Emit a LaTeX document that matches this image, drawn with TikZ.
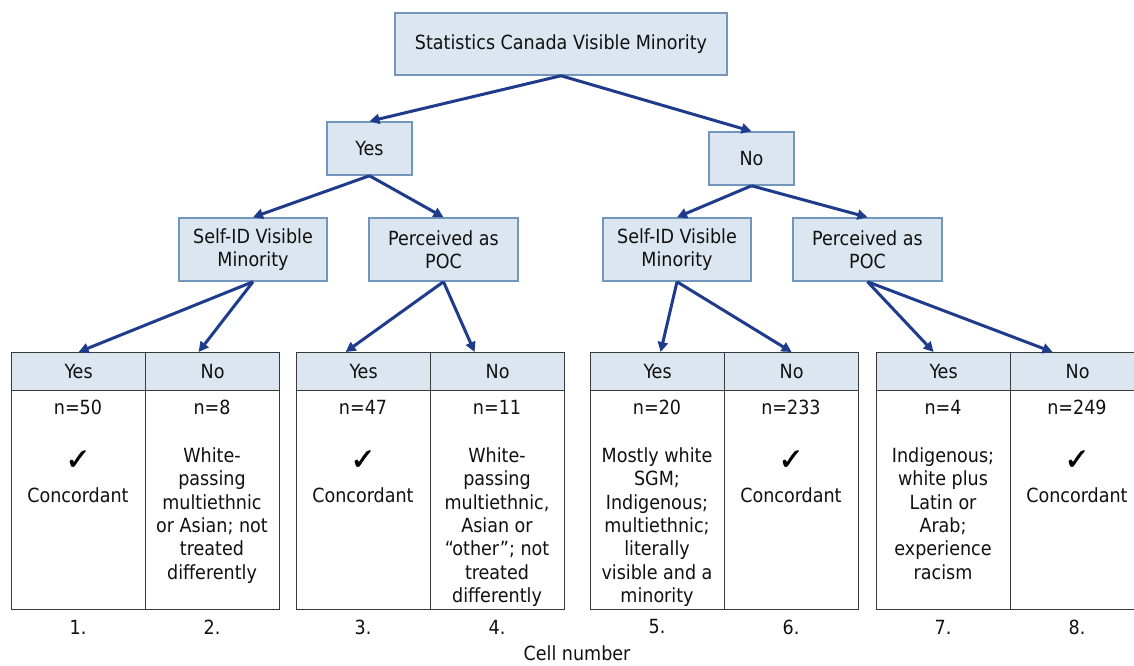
\documentclass[tikz,border=0pt]{standalone}
\usepackage{fontspec}
\setmainfont{DejaVu Sans Condensed}
\newfontfamily\symfont{DejaVu Sans}[FakeBold=1.6]
\usetikzlibrary{arrows.meta,calc}
\definecolor{boxfill}{HTML}{DCE6F0}
\definecolor{boxline}{HTML}{7397BC}
\definecolor{arrowc}{HTML}{1F3C8C}
\definecolor{tabline}{HTML}{3A3A3A}
\definecolor{txt}{HTML}{111111}
\newcommand{\mainsize}{\fontsize{19.5}{23.3}\selectfont}
\tikzset{
  treebox/.style={draw=boxline, fill=boxfill, line width=1.5pt, align=center,
    inner sep=0pt, font=\mainsize, text=txt},
  hdr/.style={draw=tabline, fill=boxfill, line width=1.2pt, minimum width=134pt,
    minimum height=38pt, inner sep=0pt, anchor=north west, font=\mainsize, text=txt},
  cellbody/.style={draw=tabline, line width=1.2pt, minimum width=134pt,
    minimum height=219pt, inner sep=0pt, anchor=north west},
  celltxt/.style={align=center, inner sep=0pt, font=\mainsize, text=txt, anchor=north},
  checktxt/.style={inner sep=0pt, font=\symfont\fontsize{30}{30}\selectfont, text=black},
  numtxt/.style={inner sep=0pt, font=\mainsize, text=txt},
  arr/.style={draw=arrowc, line width=3pt, -{Triangle[length=10pt,width=10pt]}}
}
\begin{document}
\begin{tikzpicture}[x=1pt,y=-1pt]
\useasboundingbox (0,0) rectangle (1134,665);
\fill[white] (0,0) rectangle (1134,665);
% tree boxes
\node[treebox, minimum width=332pt, minimum height=62pt] (top) at (561,44) {Statistics Canada Visible Minority};
\node[treebox, minimum width=85pt, minimum height=53pt] (yes) at (369.5,148.5) {Yes};
\node[treebox, minimum width=85pt, minimum height=53pt] (no) at (751.5,158.5) {No};
\node[treebox, minimum width=148pt, minimum height=63pt] (sidL) at (253,249.5) {Self-ID Visible\\Minority};
\node[treebox, minimum width=149pt, minimum height=63pt] (pocL) at (443.5,249.5) {Perceived as\\POC};
\node[treebox, minimum width=148pt, minimum height=63pt] (sidR) at (677,249.5) {Self-ID Visible\\Minority};
\node[treebox, minimum width=149pt, minimum height=63pt] (pocR) at (867.5,249.5) {Perceived as\\POC};
% tables: headers
\node[hdr] (h1) at (11,352) {Yes};
\node[hdr] (h2) at (145,352) {No};
\node[hdr] (h3) at (296,352) {Yes};
\node[hdr] (h4) at (430,352) {No};
\node[hdr] (h5) at (590,352) {Yes};
\node[hdr] (h6) at (724,352) {No};
\node[hdr] (h7) at (876,352) {Yes};
\node[hdr] (h8) at (1010,352) {No};
% bodies
\node[cellbody] (b1) at (11,390) {};
\node[cellbody] (b2) at (145,390) {};
\node[cellbody] (b3) at (296,390) {};
\node[cellbody] (b4) at (430,390) {};
\node[cellbody] (b5) at (590,390) {};
\node[cellbody] (b6) at (724,390) {};
\node[cellbody] (b7) at (876,390) {};
\node[cellbody] (b8) at (1010,390) {};
% counts
\node[celltxt] (n1) at (78,400) {n=50};
\node[celltxt] (n2) at (212,400) {n=8};
\node[celltxt] (n3) at (363,400) {n=47};
\node[celltxt] (n4) at (497,400) {n=11};
\node[celltxt] (n5) at (657,400) {n=20};
\node[celltxt] (n6) at (791,400) {n=233};
\node[celltxt] (n7) at (943,400) {n=4};
\node[celltxt] (n8) at (1077,400) {n=249};
% concordant cells
\node[checktxt] (c1) at (78,460) {✓};
\node[celltxt] (k1) at (78,487.5) {Concordant};
\node[checktxt] (c3) at (363,460) {✓};
\node[celltxt] (k3) at (363,487.5) {Concordant};
\node[checktxt] (c6) at (791,460) {✓};
\node[celltxt] (k6) at (791,487.5) {Concordant};
\node[checktxt] (c8) at (1077,460) {✓};
\node[celltxt] (k8) at (1077,487.5) {Concordant};
% descriptive cells
\node[celltxt] (d2) at (212,447.5) {White-\\passing\\multiethnic\\or Asian; not\\treated\\differently};
\node[celltxt] (d4) at (497,447.5) {White-\\passing\\multiethnic,\\Asian or\\“other”; not\\treated\\differently};
\node[celltxt] (d5) at (657,447.5) {Mostly white\\SGM;\\Indigenous;\\multiethnic;\\literally\\visible and a\\minority};
\node[celltxt] (d7) at (943,447.5) {Indigenous;\\white plus\\Latin or\\Arab;\\experience\\racism};
% cell numbers
\node[numtxt] (m1) at (78,627) {1.};
\node[numtxt] (m2) at (212,627) {2.};
\node[numtxt] (m3) at (363,627) {3.};
\node[numtxt] (m4) at (497,627) {4.};
\node[numtxt] (m5) at (657,627) {5.};
\node[numtxt] (m6) at (791,627) {6.};
\node[numtxt] (m7) at (943,627) {7.};
\node[numtxt] (m8) at (1077,627) {8.};
\node[numtxt] (cap) at (577,653) {Cell number};
% arrows
\draw[arr] (top.south) -- (yes.north);
\draw[arr] (top.south) -- (no.north);
\draw[arr] (yes.south) -- (sidL.north);
\draw[arr] (yes.south) -- (pocL.north);
\draw[arr] (no.south) -- (sidR.north);
\draw[arr] (no.south) -- (pocR.north);
\draw[arr] (sidL.south) -- (h1.north);
\draw[arr] (sidL.south) -- ($(h2.north)+(-14,0)$);
\draw[arr] (pocL.south) -- ($(h3.north)+(-18,0)$);
\draw[arr] (pocL.south) -- ($(h4.north)+(-23,0)$);
\draw[arr] (sidR.south) -- ($(h5.north)+(3,0)$);
\draw[arr] (sidR.south) -- (h6.north);
\draw[arr] (pocR.south) -- ($(h7.north)+(-10,0)$);
\draw[arr] (pocR.south) -- ($(h8.north)+(-25,0)$);
\end{tikzpicture}
\end{document}
